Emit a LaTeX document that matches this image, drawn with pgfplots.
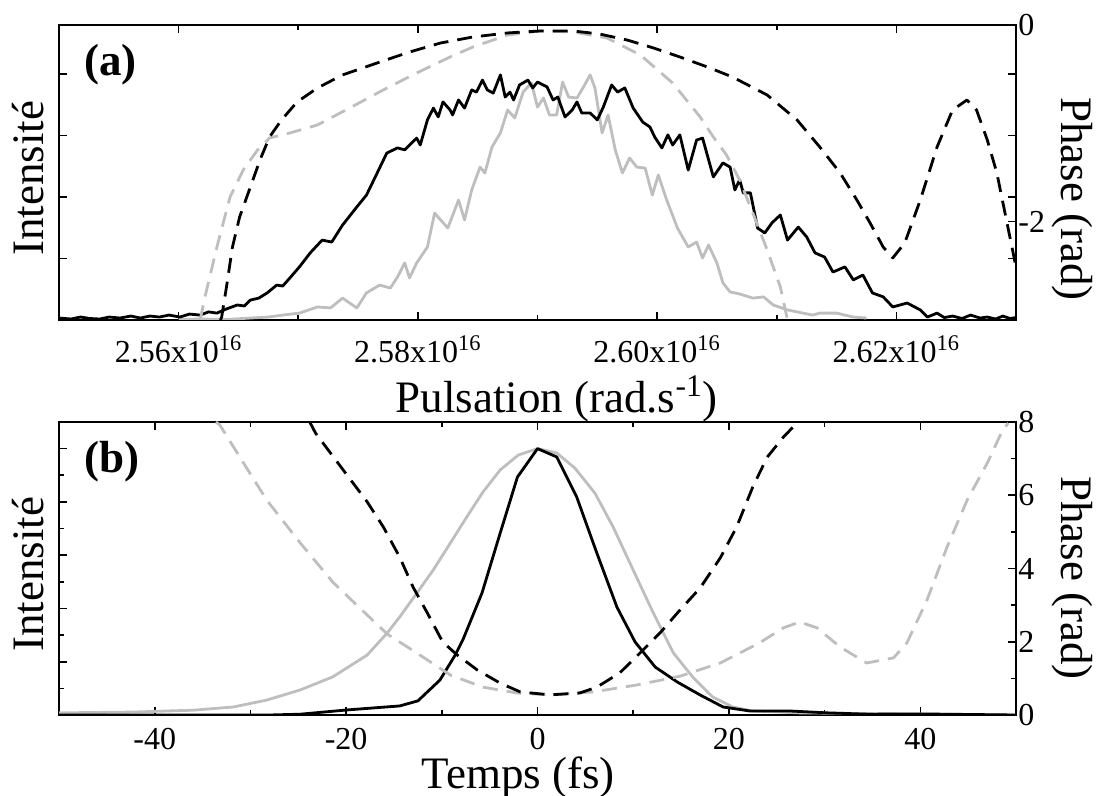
\documentclass[border=0pt]{standalone}
\usepackage{fontspec}
\setmainfont{Liberation Serif}
\usepackage{pgfplots}
\pgfplotsset{compat=1.18}
\definecolor{lgray}{RGB}{190,190,190}

\pgfplotsset{
  panel/.style={
    scale only axis, width=478.5pt,
    axis line style={line width=1pt},
    every tick/.style={line width=0.8pt, black},
    tick align=inside,
    major tick length=4pt, minor tick length=2.5pt,
    /pgf/number format/assume math mode=true,
    ticklabel style={font=\fontsize{16}{19}\selectfont, inner sep=1pt},
    label style={font=\fontsize{22.5}{27}\selectfont, inner sep=0pt},
  },
  spec/.style={line width=1.4pt, line join=round},
  phas/.style={line width=1.4pt, line join=round, dash pattern=on 7.5pt off 4.5pt},
}

\begin{document}
\begin{tikzpicture}
\path[use as bounding box] (0,0) rectangle (550.5pt,398pt);

% ---- (a) spectre : intensite
\begin{axis}[panel, at={(29.5pt,238pt)}, anchor=south west, height=147.5pt,
  xmin=2.55, xmax=2.63, ymin=0, ymax=1.2,
  xtick={2.56,2.58,2.60,2.62},
  xticklabels={2.56x10\textsuperscript{16},2.58x10\textsuperscript{16},2.60x10\textsuperscript{16},2.62x10\textsuperscript{16}},
  minor xtick={2.55,2.57,2.59,2.61,2.63},
  xticklabel style={anchor=base, yshift=-21.5pt},
  ytick={0.25,0.5,0.75,1.0}, yticklabels={},
  xlabel={Pulsation (rad.s\textsuperscript{-1})},
  xlabel style={at={(axis description cs:0.52,-0.312)}, anchor=base},
  ylabel={Intensité},
  ylabel style={at={(axis description cs:-0.0324,0.481)}, anchor=center},
]
\addplot[spec, lgray] coordinates {
(2.5600,0.002)(2.5618,0.004)(2.5640,0.002)(2.5660,0.008)(2.5675,0.012)(2.5687,0.020)(2.5701,0.028)(2.5716,0.053)(2.5727,0.049)(2.5737,0.089)(2.5749,0.049)(2.5757,0.110)(2.5768,0.142)(2.5777,0.130)(2.5783,0.175)(2.5789,0.232)(2.5793,0.171)(2.5799,0.232)(2.5808,0.297)(2.5814,0.435)(2.5819,0.407)(2.5825,0.374)(2.5834,0.488)(2.5839,0.407)(2.5845,0.529)(2.5852,0.622)(2.5856,0.598)(2.5862,0.704)(2.5869,0.761)(2.5875,0.854)(2.5881,0.822)(2.5888,0.927)(2.5895,0.964)(2.5900,0.866)(2.5905,0.903)(2.5910,0.834)(2.5916,0.834)(2.5921,0.968)(2.5926,0.907)(2.5933,0.903)(2.5938,0.944)(2.5944,0.997)(2.5948,0.944)(2.5954,0.761)(2.5959,0.834)(2.5965,0.692)(2.5971,0.598)(2.5977,0.659)(2.5983,0.622)(2.5990,0.618)(2.5996,0.508)(2.6001,0.590)(2.6008,0.488)(2.6017,0.374)(2.6026,0.297)(2.6033,0.317)(2.6038,0.252)(2.6043,0.305)(2.6050,0.232)(2.6055,0.151)(2.6061,0.114)(2.6069,0.106)(2.6080,0.089)(2.6089,0.094)(2.6097,0.061)(2.6109,0.041)(2.6122,0.028)(2.6130,0.020)(2.6136,0.028)(2.6150,0.028)(2.6164,0.012)(2.6175,0.008)
};
\addplot[spec, black] coordinates {
(2.5500,0.008)(2.5510,0.004)(2.5518,0.012)(2.5526,0.006)(2.5534,0.004)(2.5542,0.012)(2.5551,0.008)(2.5560,0.016)(2.5568,0.008)(2.5576,0.016)(2.5584,0.012)(2.5592,0.020)(2.5601,0.012)(2.5609,0.024)(2.5618,0.020)(2.5625,0.033)(2.5632,0.028)(2.5640,0.045)(2.5649,0.061)(2.5655,0.057)(2.5660,0.081)(2.5667,0.089)(2.5674,0.110)(2.5682,0.142)(2.5687,0.138)(2.5693,0.171)(2.5701,0.216)(2.5710,0.273)(2.5720,0.325)(2.5728,0.317)(2.5737,0.386)(2.5749,0.460)(2.5757,0.508)(2.5766,0.598)(2.5774,0.679)(2.5783,0.700)(2.5789,0.692)(2.5799,0.740)(2.5802,0.712)(2.5808,0.814)(2.5813,0.862)(2.5817,0.826)(2.5821,0.887)(2.5827,0.854)(2.5829,0.834)(2.5834,0.895)(2.5839,0.862)(2.5845,0.936)(2.5849,0.927)(2.5854,0.976)(2.5858,0.936)(2.5863,0.923)(2.5869,0.997)(2.5873,0.907)(2.5877,0.927)(2.5880,0.895)(2.5885,0.956)(2.5892,0.976)(2.5896,0.944)(2.5900,0.968)(2.5908,0.948)(2.5913,0.895)(2.5917,0.907)(2.5923,0.826)(2.5929,0.854)(2.5933,0.887)(2.5937,0.842)(2.5944,0.842)(2.5950,0.814)(2.5955,0.866)(2.5962,0.956)(2.5967,0.927)(2.5973,0.944)(2.5980,0.862)(2.5988,0.805)(2.5994,0.785)(2.5998,0.744)(2.6004,0.700)(2.6009,0.753)(2.6013,0.712)(2.6019,0.753)(2.6026,0.610)(2.6033,0.732)(2.6038,0.740)(2.6047,0.582)(2.6055,0.639)(2.6061,0.622)(2.6065,0.529)(2.6069,0.570)(2.6072,0.517)(2.6078,0.517)(2.6084,0.374)(2.6090,0.354)(2.6096,0.395)(2.6103,0.427)(2.6109,0.325)(2.6118,0.378)(2.6125,0.338)(2.6132,0.273)(2.6140,0.256)(2.6147,0.195)(2.6157,0.216)(2.6164,0.163)(2.6172,0.183)(2.6180,0.110)(2.6189,0.094)(2.6197,0.053)(2.6209,0.069)(2.6220,0.041)(2.6226,0.012)(2.6234,0.028)(2.6240,0.010)(2.6247,0.016)(2.6255,0.006)(2.6262,0.020)(2.6270,0.008)(2.6276,0.012)(2.6283,0.004)(2.6289,0.016)(2.6295,0.006)(2.6300,0.010)
};
\node[font=\bfseries\fontsize{22.5}{27}\selectfont] at (rel axis cs:0.054,0.864) {(a)};
\end{axis}

% ---- (a) spectre : phase
\begin{axis}[panel, at={(29.5pt,238pt)}, anchor=south west, height=147.5pt,
  xmin=2.55, xmax=2.63, ymin=-3, ymax=0,
  axis x line=none, axis y line*=right,
  ytick={-2,0}, yticklabels={-2,0},
  ylabel={Phase (rad)},
  ylabel style={at={(axis description cs:1.059,0.41)}, anchor=center, rotate=180},
]
\addplot[phas, lgray] coordinates {
(2.5618,-3.0)(2.5622,-2.766)(2.5632,-2.258)(2.5643,-1.749)(2.5654,-1.474)(2.5666,-1.271)(2.5676,-1.149)(2.5693,-1.098)(2.5716,-1.017)(2.5743,-0.844)(2.5771,-0.661)(2.5799,-0.488)(2.5827,-0.325)(2.5846,-0.224)(2.5875,-0.102)(2.5902,-0.061)(2.5930,-0.071)(2.5958,-0.132)(2.5986,-0.305)(2.6013,-0.590)(2.6036,-0.936)(2.6047,-1.139)(2.6058,-1.322)(2.6069,-1.576)(2.6080,-1.912)(2.6092,-2.288)(2.6103,-2.664)(2.6109,-3.0)
};
\addplot[phas, black] coordinates {
(2.5635,-3.0)(2.5636,-2.969)(2.5640,-2.664)(2.5645,-2.258)(2.5651,-1.952)(2.5660,-1.647)(2.5668,-1.373)(2.5676,-1.139)(2.5686,-0.966)(2.5699,-0.783)(2.5716,-0.641)(2.5737,-0.508)(2.5766,-0.386)(2.5793,-0.275)(2.5819,-0.183)(2.5846,-0.122)(2.5875,-0.081)(2.5902,-0.061)(2.5930,-0.061)(2.5952,-0.092)(2.5975,-0.153)(2.5997,-0.234)(2.6019,-0.325)(2.6042,-0.427)(2.6063,-0.529)(2.6092,-0.712)(2.6117,-0.966)(2.6136,-1.241)(2.6153,-1.505)(2.6167,-1.780)(2.6178,-2.013)(2.6189,-2.258)(2.6197,-2.369)(2.6207,-2.217)(2.6220,-1.780)(2.6234,-1.241)(2.6247,-0.864)(2.6259,-0.763)(2.6267,-0.864)(2.6276,-1.169)(2.6284,-1.505)(2.6292,-1.983)(2.6300,-2.461)
};
\end{axis}

% ---- (b) temporel : intensite
\begin{axis}[panel, at={(29.5pt,40.5pt)}, anchor=south west, height=146.5pt,
  xmin=-50, xmax=50, ymin=0, ymax=1.1,
  xtick={-40,-20,0,20,40}, xticklabels={-40,-20,0,20,40},
  minor xtick={-50,-30,-10,10,30,50},
  xticklabel style={anchor=base, yshift=-17pt},
  ytick={0.2,0.4,0.6,0.8,1.0}, yticklabels={},
  minor ytick={0.1,0.3,0.5,0.7,0.9},
  ytick pos=left,
  xlabel={Temps (fs)},
  xlabel style={at={(axis description cs:0.48,-0.251)}, anchor=base},
  ylabel={Intensité},
  ylabel style={at={(axis description cs:-0.0324,0.481)}, anchor=center},
]
\addplot[spec, lgray] coordinates {
(-50,0.008)(-42.3,0.011)(-36,0.018)(-31.8,0.030)(-28.3,0.056)(-24.8,0.094)(-21.4,0.143)(-17.8,0.225)(-15.7,0.308)(-14.4,0.368)(-12.6,0.458)(-10.9,0.544)(-9.1,0.646)(-7.4,0.743)(-5.7,0.837)(-3.9,0.920)(-2.0,0.976)(0,1.0)(2.0,0.984)(3.9,0.927)(6.0,0.833)(7.9,0.706)(10.0,0.544)(12.1,0.383)(14.2,0.233)(16.3,0.139)(18.3,0.068)(20.4,0.030)(22.5,0.015)(27.4,0.008)(37.9,0.004)(50,0)
};
\addplot[spec, black] coordinates {
(-50,0)(-28,0)(-24.8,0.003)(-19.9,0.019)(-14.4,0.034)(-12.5,0.053)(-10.2,0.131)(-8.6,0.225)(-7.8,0.282)(-5.8,0.458)(-3.9,0.683)(-2.1,0.893)(0,1.0)(2.0,0.969)(4.1,0.818)(6.2,0.608)(8.3,0.405)(10.2,0.274)(12.3,0.180)(14.6,0.124)(17.0,0.075)(19.4,0.030)(22.2,0.015)(26.4,0.015)(30.3,0.008)(34.5,0.003)(40.0,0.004)(50,0)
};
\node[font=\bfseries\fontsize{22.5}{27}\selectfont] at (rel axis cs:0.055,0.863) {(b)};
\end{axis}

% ---- (b) temporel : phase
\begin{axis}[panel, at={(29.5pt,40.5pt)}, anchor=south west, height=146.5pt,
  xmin=-50, xmax=50, ymin=0, ymax=8,
  axis x line=none, axis y line*=right,
  ytick={0,2,4,6,8}, yticklabels={0,2,4,6,8},
  minor ytick={1,3,5,7},
  ylabel={Phase (rad)},
  ylabel style={at={(axis description cs:1.059,0.468)}, anchor=center, rotate=180},
]
\addplot[phas, lgray] coordinates {
(-33.6,8.0)(-33.2,7.92)(-31.1,7.04)(-28.3,5.87)(-24.8,4.70)(-21.4,3.63)(-17.8,2.73)(-15.7,2.21)(-12.6,1.69)(-9.1,1.09)(-5.7,0.76)(-2.1,0.60)(1.3,0.55)(5.8,0.63)(10.4,0.82)(14.9,1.06)(19.1,1.42)(23.2,1.97)(25.7,2.38)(27.4,2.54)(29.2,2.38)(31.6,1.86)(34.4,1.42)(37.2,1.56)(38.6,1.97)(40.7,3.14)(42.8,4.59)(44.9,5.87)(47.0,6.88)(48.6,7.78)(49.2,7.97)
};
\addplot[phas, black] coordinates {
(-23.8,8.0)(-23.2,7.70)(-19.9,6.55)(-17.8,5.82)(-16.1,5.13)(-14.4,4.31)(-13.0,3.49)(-11.5,2.78)(-9.9,1.99)(-8.4,1.64)(-6.3,1.23)(-3.9,0.87)(-1.8,0.63)(1.3,0.55)(4.4,0.60)(6.2,0.76)(8.6,1.15)(10.7,1.69)(12.8,2.24)(14.9,2.87)(17.0,3.47)(19.1,4.29)(20.8,5.13)(22.5,6.23)(24.0,7.04)(25.7,7.59)(27.1,7.97)
};
\end{axis}
\end{tikzpicture}
\end{document}
